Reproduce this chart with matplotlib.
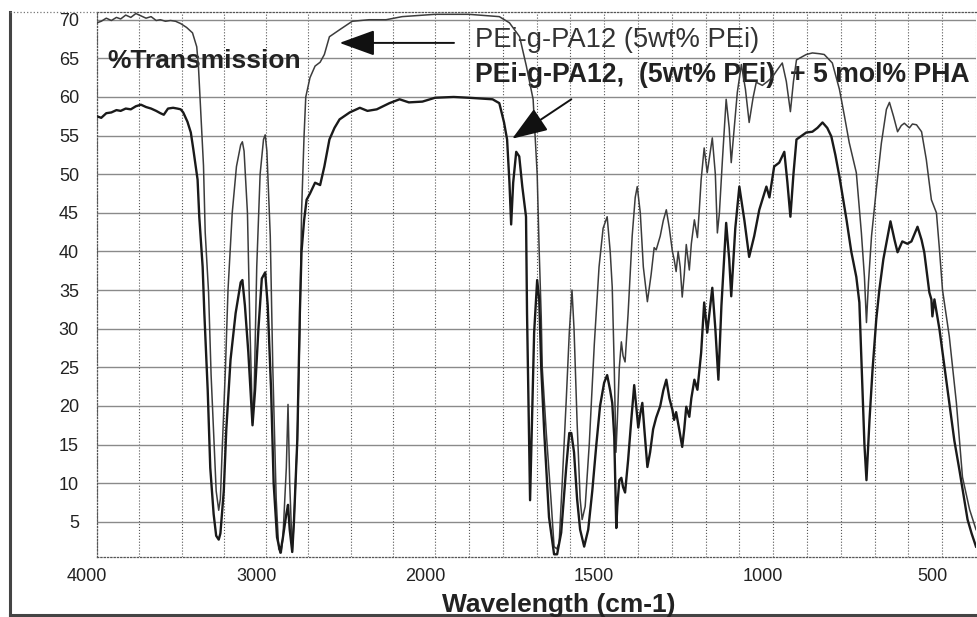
import numpy as np
import matplotlib
matplotlib.use('Agg')
import matplotlib.pyplot as plt
from matplotlib.lines import Line2D
from matplotlib.transforms import ScaledTranslation

plt.rcParams['font.family'] = ['Liberation Sans', 'DejaVu Sans']

# Spectre IR du PEi-g-PA12 (5wt% PEi)
wn_a = [4000, 3975, 3945, 3915, 3885, 3860, 3830, 3800, 3770, 3740, 3710, 3680, 3650, 3625,
        3595, 3565, 3535, 3505, 3470, 3435, 3410, 3400, 3390, 3370, 3360, 3340, 3325, 3305,
        3295, 3280, 3270, 3260, 3240, 3225, 3200, 3175, 3150, 3140, 3130, 3110, 3095, 3080,
        3070, 3055, 3035, 3015, 3005, 2995, 2975, 2960, 2940, 2925, 2910, 2900, 2880, 2870,
        2860, 2845, 2835, 2815, 2800, 2790, 2775, 2765, 2740, 2710, 2680, 2655, 2625, 2565,
        2490, 2390, 2290, 2195, 2000, 1900, 1810, 1780, 1750, 1730, 1710, 1698, 1692, 1686,
        1683, 1671, 1657, 1648, 1640, 1633, 1624, 1612, 1603, 1595, 1589, 1580, 1571, 1565,
        1556, 1544, 1529, 1515, 1503, 1491, 1482, 1476, 1470, 1467, 1465, 1461, 1455, 1449,
        1444, 1438, 1429, 1417, 1408, 1402, 1393, 1384, 1372, 1361, 1352, 1346, 1334, 1325,
        1316, 1307, 1298, 1293, 1287, 1281, 1275, 1269, 1263, 1257, 1248, 1242, 1233, 1224,
        1219, 1213, 1204, 1195, 1180, 1171, 1165, 1159, 1150, 1139, 1130, 1124, 1115, 1106,
        1094, 1082, 1071, 1059, 1050, 1032, 1017, 1002, 988, 973, 961, 949, 940, 931, 902,
        884, 863, 849, 825, 804, 789, 775, 754, 739, 730, 724, 718, 709, 695, 680, 665, 656,
        644, 632, 621, 612, 597, 588, 576, 561, 547, 532, 517, 508, 499, 479, 458, 440, 419,
        400]
t_a = [69.6, 69.8, 70.2, 69.9, 70.3, 70.1, 70.6, 70.3, 70.8, 70.5, 70.2, 70.4, 69.9, 70.0,
       69.8, 69.9, 69.8, 69.5, 69.0, 68.3, 66.5, 64.0, 59.7, 51.1, 42.5, 34.7, 24.0, 14.0,
       9.0, 6.5, 8.0, 14.0, 25.0, 35.0, 45.0, 51.0, 53.8, 54.2, 53.0, 45.0, 30.0, 17.8,
       22.0, 38.0, 50.0, 54.5, 55.1, 53.0, 42.0, 25.0, 8.0, 1.5, 1.0, 3.0, 12.0, 20.2,
       10.0, 1.1, 5.0, 15.6, 30.0, 45.0, 55.0, 60.0, 62.5, 64.0, 64.5, 65.5, 67.8, 68.7,
       69.8, 70.0, 70.0, 70.4, 70.7, 70.7, 70.4, 69.6, 67.8, 64.0, 59.7, 50.0, 40.0, 31.6,
       25.0, 16.5, 7.8, 1.8, 1.5, 2.3, 10.0, 20.8, 29.5, 35.0, 30.0, 18.0, 8.0, 5.3,
       7.0, 15.0, 28.0, 38.0, 43.0, 44.5, 40.0, 35.4, 25.0, 18.0, 14.0, 18.0, 25.0, 28.3,
       26.5, 25.7, 32.0, 42.0, 47.0, 48.4, 45.0, 38.0, 33.5, 37.0, 40.5, 40.2, 42.0, 44.0,
       45.4, 43.0, 40.0, 39.0, 37.4, 40.0, 38.0, 34.1, 37.0, 40.9, 37.6, 41.0, 44.1, 41.8,
       45.0, 49.3, 53.4, 50.2, 54.7, 50.0, 42.4, 45.0, 51.9, 59.7, 56.0, 51.5, 56.0, 60.6,
       64.2, 61.0, 56.7, 60.0, 61.9, 61.5, 62.0, 62.6, 63.5, 64.4, 62.0, 58.1, 62.0, 64.8, 65.5,
       65.7, 65.6, 65.5, 64.4, 61.0, 57.5, 54.1, 50.2, 42.4, 36.7, 30.8, 36.0, 42.0, 48.0, 54.0, 58.4, 59.3,
       57.5, 55.5, 56.3, 56.6, 56.0, 56.5, 56.4, 55.5, 51.9, 46.7, 45.0, 40.2, 35.0, 29.0, 20.4, 10.8, 6.6,
       4.0]

# Spectre IR du PEi-g-PA12 (5wt% PEi) + 5 mol% PHA
wn_b = [4000, 3975, 3945, 3915, 3885, 3860, 3830, 3800, 3770, 3740, 3710, 3680, 3650, 3625,
        3605, 3580, 3550, 3525, 3505, 3490, 3465, 3445, 3430, 3405, 3395, 3375, 3365, 3345,
        3330, 3310, 3295, 3280, 3270, 3250, 3235, 3210, 3180, 3150, 3140, 3125, 3105, 3080,
        3065, 3045, 3025, 3005, 2990, 2970, 2955, 2935, 2915, 2900, 2880, 2870, 2860, 2845,
        2835, 2815, 2800, 2790, 2775, 2760, 2740, 2710, 2680, 2655, 2625, 2595, 2565, 2505,
        2445, 2400, 2345, 2270, 2210, 2155, 2075, 2000, 1945, 1900, 1830, 1810, 1796, 1787,
        1780, 1775, 1769, 1760, 1751, 1742, 1731, 1728, 1719, 1707, 1698, 1692, 1686, 1677,
        1663, 1648, 1639, 1627, 1612, 1603, 1597, 1589, 1580, 1571, 1559, 1547, 1535, 1523,
        1512, 1500, 1491, 1482, 1476, 1470, 1467, 1464, 1461, 1455, 1449, 1444, 1438, 1429,
        1420, 1411, 1405, 1399, 1393, 1387, 1381, 1372, 1364, 1355, 1346, 1334, 1325, 1316,
        1307, 1298, 1293, 1287, 1278, 1269, 1263, 1257, 1248, 1242, 1233, 1224, 1213, 1204,
        1195, 1180, 1171, 1162, 1153, 1139, 1130, 1124, 1112, 1100, 1085, 1071, 1056, 1041,
        1020, 1011, 997, 982, 967, 958, 949, 940, 931, 902, 884, 869, 854, 840, 828, 816,
        804, 783, 769, 754, 745, 736, 730, 724, 715, 706, 695, 686, 674, 665, 653, 641, 632,
        618, 603, 591, 573, 561, 553, 538, 532, 529, 523, 508, 493, 479, 464, 449, 437, 425,
        413, 400]
t_b = [57.5, 57.3, 57.9, 58.0, 58.3, 58.2, 58.5, 58.4, 58.8, 59.0, 58.7, 58.5, 58.2, 57.9,
       57.7, 58.5, 58.6, 58.5, 58.4, 58.0, 56.8, 55.4, 53.2, 49.3, 44.5, 38.0, 32.0, 22.0,
       12.0, 6.0, 3.2, 2.7, 3.5, 9.0, 17.0, 26.0, 32.0, 36.0, 36.3, 33.0, 27.0, 17.5,
       22.0, 30.0, 36.5, 37.3, 33.0, 22.0, 10.0, 3.0, 1.0, 3.0, 6.0, 7.2, 4.0, 1.1,
       5.0, 15.6, 32.0, 40.0, 44.0, 46.7, 47.5, 48.9, 48.6, 51.0, 54.5, 56.0, 57.1, 58.0,
       58.6, 58.2, 58.4, 59.2, 59.7, 59.3, 59.4, 59.9, 60.0, 59.9, 59.7, 59.2, 56.7, 54.5,
       48.9, 43.5, 48.9, 52.9, 52.3, 48.4, 44.5, 32.0, 7.8, 29.5, 36.3, 33.8, 25.0, 16.5,
       5.6, 0.8, 0.8, 3.6, 12.1, 16.5, 16.5, 14.0, 8.0, 4.0, 1.8, 4.0, 9.0, 15.0,
       20.0, 23.0, 24.0, 22.0, 20.4, 16.0, 10.0, 4.2, 7.0, 10.4, 10.7, 9.5, 8.8, 13.0,
       18.0, 22.7, 20.0, 17.2, 19.0, 20.4, 17.0, 12.1, 14.0, 17.0, 18.5, 20.0, 22.0, 23.4,
       21.0, 19.5, 18.2, 19.2, 17.0, 14.7, 17.0, 19.9, 18.6, 21.0, 23.4, 22.1, 26.9, 33.4,
       29.5, 35.3, 30.0, 23.4, 33.0, 43.7, 39.0, 34.2, 43.0, 48.4, 44.0, 39.3, 42.0, 45.4,
       48.4, 47.0, 51.0, 51.5, 52.9, 49.0, 44.5, 50.0, 54.5, 55.4, 55.5, 56.0, 56.7, 56.0, 54.9, 52.5,
       49.7, 44.1, 40.0, 36.7, 33.4, 22.5, 15.0, 10.4, 18.2, 24.7, 31.2, 35.0, 39.0, 41.1, 43.9, 41.5, 39.9,
       41.3, 41.0, 41.3, 43.2, 41.5, 39.9, 34.7, 33.8, 31.6, 33.8, 29.9, 25.0, 20.4, 15.5, 11.7, 8.5, 5.3,
       3.5, 1.8]

major_ticks = [4000, 3000, 2000, 1500, 1000, 500]
minor_ticks = [3750, 3500, 3250, 2750, 2500, 2250] + list(range(1900, 399, -100))
y_ticks = list(range(5, 71, 5))


# echelle IR classique : compression x2 au dessus de 2000 cm-1
def fwd(x):
    x = np.asarray(x, dtype=float)
    return np.where(x > 2000, 2000 + (x - 2000) / 2, x)


def inv(u):
    u = np.asarray(u, dtype=float)
    return np.where(u > 2000, 2000 + (u - 2000) * 2, u)


fig = plt.figure(figsize=(9.77, 6.17), dpi=100)
ax = fig.add_axes([97 / 977, 60 / 617, 879 / 977, 545 / 617])

ax.set_xscale('function', functions=(fwd, inv))
ax.set_xlim(4000, 400)
ax.set_ylim(0.45, 71.0)

ax.plot(wn_a, t_a, color='#3c3c3c', lw=1.1, zorder=3)
ax.plot(wn_b, t_b, color='#1a1a1a', lw=1.7, zorder=3)

ax.set_xticks(major_ticks, [str(v) for v in major_ticks])
ax.set_xticks(minor_ticks, minor=True)
ax.set_yticks(y_ticks)
ax.yaxis.grid(True, color='#8a8a8a', lw=1.0)
ax.xaxis.grid(True, which='both', color='#555555', lw=0.8, ls=':')
ax.set_axisbelow(True)

ax.tick_params(axis='both', which='both', length=0, labelsize=13, labelcolor='#222222')
ax.tick_params(axis='x', pad=8)
ax.tick_params(axis='y', pad=13)
for lab in ax.get_xticklabels():
    lab.set_transform(lab.get_transform() + ScaledTranslation(-0.1, 0, fig.dpi_scale_trans))

for s in ['top', 'left', 'bottom']:
    ax.spines[s].set_linestyle(':')
    ax.spines[s].set_color('#555555')
    ax.spines[s].set_linewidth(0.9)
ax.spines['right'].set_visible(False)

# cadre exterieur
fig.add_artist(Line2D([10 / 977, 10 / 977], [2 / 617, 1 - 12 / 617], transform=fig.transFigure,
                      color='#444444', lw=2.2))
fig.add_artist(Line2D([10 / 977, 1], [2 / 617, 2 / 617], transform=fig.transFigure,
                      color='#444444', lw=2.2))
fig.add_artist(Line2D([10 / 977, 97 / 977], [1 - 12 / 617, 1 - 12 / 617], transform=fig.transFigure,
                      color='#777777', lw=0.9, ls=':'))

ax.text(0.0114, 0.897, '%Transmission', transform=ax.transAxes, fontsize=19,
        fontweight='bold', va='baseline', color='#222222', zorder=1)
ax.text(0.430, 0.936, 'PEi-g-PA12 (5wt% PEi)', transform=ax.transAxes, fontsize=19.7,
        va='baseline', color='#333333', zorder=1)
ax.text(0.430, 0.8716, 'PEi-g-PA12,  (5wt% PEi)  + 5 mol% PHA', transform=ax.transAxes,
        fontsize=19.2, fontweight='bold', va='baseline', color='#222222', zorder=1)
fig.text(559 / 977, 5 / 617, 'Wavelength (cm-1)', ha='center', va='baseline', fontsize=19,
         fontweight='bold', color='#222222')

arrow = dict(arrowstyle='-|>,head_length=1.1,head_width=0.4', mutation_scale=20, lw=1.4,
             color='#111111', shrinkA=0, shrinkB=0)
ax.annotate('', xy=(2565, 67.0), xytext=(1944, 67.0), arrowprops=arrow, zorder=4)
ax.annotate('', xy=(1772, 54.6), xytext=(1597, 59.7), arrowprops=arrow, zorder=4)

fig.savefig('out.png', dpi=100)
